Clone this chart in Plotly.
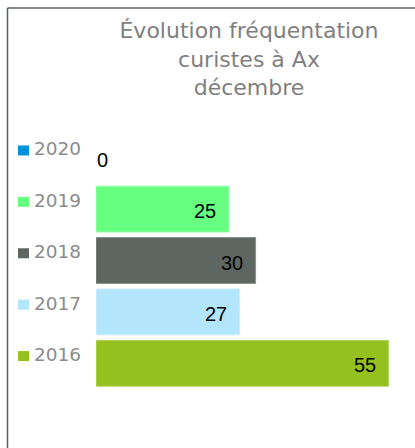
import plotly.graph_objects as go

years = ["2016", "2017", "2018", "2019", "2020"]
values = [55, 27, 30, 25, 0]
colors = ["#95C11F", "#B3E5FC", "#5E6661", "#66FF80", "#0091DA"]
edge_colors = ["#B4D66A", "#CDEEFD", "#8A908C", "#A0FFB0", "#0091DA"]
title_lines = ["Évolution fréquentation", "curistes à Ax", "décembre"]

W, H = 415, 448
ML, MR, MT, MB = 96, 10, 132, 59
PW, PH = W - ML - MR, H - MT - MB
XMAX = PW / 5.32


def px_x(p):
    return (p - ML) / PW


def px_y(p):
    return 1 - (p - MT) / PH


idx = list(range(len(years)))

fig = go.Figure()
fig.add_trace(go.Bar(
    y=idx, x=values, orientation="h",
    marker=dict(color=colors,
                line=dict(width=[1 if v > 0 else 0 for v in values], color=edge_colors)),
    width=0.893, hoverinfo="skip",
))

annotations = []
shapes = []
for i, (yr, v, c) in enumerate(zip(years, values, colors)):
    if v > 0:
        annotations.append(dict(x=v, y=i, xref="x", yref="y", text=str(v),
                                xanchor="right", yanchor="middle", xshift=-11, yshift=-2,
                                showarrow=False,
                                font=dict(family="Liberation Sans, Arial", size=20, color="#000000")))
    else:
        annotations.append(dict(x=v, y=i, xref="x", yref="y", text=str(v),
                                xanchor="left", yanchor="middle", xshift=-1, yshift=-2,
                                showarrow=False,
                                font=dict(family="Liberation Sans, Arial", size=20, color="#000000")))
    off = 0.17
    annotations.append(dict(x=px_x(32), y=i + off, xref="paper", yref="y", text=yr,
                            xanchor="left", yanchor="middle", showarrow=False,
                            font=dict(family="DejaVu Sans", size=18.5, color="#8C8C8C")))
    sq = off - 1.5 / 51.4
    shapes.append(dict(type="rect", xref="paper", yref="y",
                       x0=px_x(18), x1=px_x(29),
                       y0=i + sq - 5 / 51.4, y1=i + sq + 5 / 51.4,
                       fillcolor=c, line=dict(width=0)))

# frame lines
shapes.append(dict(type="line", xref="paper", yref="paper",
                   x0=px_x(7.5), x1=px_x(W + 2), y0=px_y(8), y1=px_y(8),
                   line=dict(color="#5A6360", width=1.5)))
shapes.append(dict(type="line", xref="paper", yref="paper",
                   x0=px_x(7.5), x1=px_x(7.5), y0=px_y(8), y1=px_y(H + 2),
                   line=dict(color="#5A6360", width=1.5)))

fig.update_layout(
    width=W, height=H,
    margin=dict(l=ML, r=MR, t=MT, b=MB, pad=0),
    paper_bgcolor="#FFFFFF", plot_bgcolor="#FFFFFF",
    showlegend=False,
    title=dict(text="<br>".join(title_lines), x=249 / W, xref="container", xanchor="center",
               y=1 - 38 / H, yref="container", yanchor="top",
               font=dict(family="DejaVu Sans", size=22, color="#7F7F7F")),
    xaxis=dict(range=[0, XMAX], visible=False, fixedrange=True),
    yaxis=dict(range=[-0.5, len(years) - 0.5], visible=False, fixedrange=True),
    annotations=annotations, shapes=shapes,
)

fig.write_html("out.html", config={"displayModeBar": False},
               post_script="document.body.style.margin='0px';")
